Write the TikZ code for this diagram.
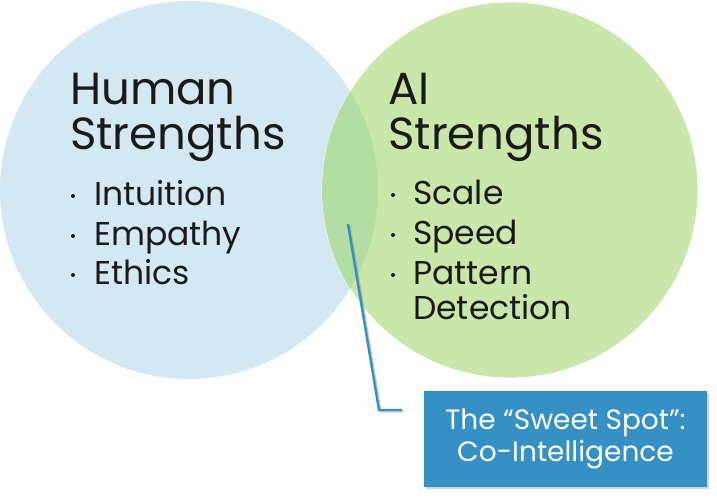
\documentclass[tikz,border=0pt]{standalone}
\usepackage{fontspec}
\setmainfont{Poppins}
\usetikzlibrary{shadows}

\definecolor{humanblue}{HTML}{D4E8F3}
\definecolor{aigreen}{HTML}{C9E7AA}
\definecolor{mixgreen}{HTML}{B3DEA3}
\definecolor{spotblue}{HTML}{3590C4}
\definecolor{inkdark}{HTML}{1A1A1A}

\tikzset{
  heading/.style={anchor=base west, inner sep=0, align=left, text=inkdark,
    font=\fontsize{45}{45}\selectfont},
  item/.style={anchor=base west, inner sep=0, text=inkdark,
    font=\fontsize{33}{35}\selectfont},
  dot/.style={circle, fill=inkdark, inner sep=0, minimum size=4pt},
}

\begin{document}
\begin{tikzpicture}[x=1pt, y=-1pt]
    \useasboundingbox (0,0) rectangle (717,498);

    % the two sets
    \node[circle, fill=humanblue, minimum size=378pt, inner sep=0] (H) at (189, 190) {};
    \node[circle, fill=aigreen, draw=white, line width=0.8pt, minimum size=376pt, inner sep=0] (A) at (510, 190) {};
    \begin{scope}
      \clip (189, 190) circle (189pt);
      \fill[mixgreen] (510, 190) circle (188pt);
    \end{scope}

    % base of a two-line node is its last line
    \node[heading] (Htitle) at (70, 149) {Human\\Strengths};
    \node[item] (h1) at (94, 205) {Intuition};
    \node[item] (h2) at (94, 245) {Empathy};
    \node[item] (h3) at (94, 284) {Ethics};
    \node[dot] (hb1) at (73, 196) {};
    \node[dot] (hb2) at (73, 236) {};
    \node[dot] (hb3) at (73, 275) {};

    \node[heading] (Atitle) at (388, 149) {AI\\Strengths};
    \node[item] (a1) at (413, 204) {Scale};
    \node[item] (a2) at (413, 244) {Speed};
    \node[item] (a3) at (413, 284) {Pattern};
    \node[item] (a4) at (413, 319) {Detection};
    \node[dot] (ab1) at (393, 195) {};
    \node[dot] (ab2) at (393, 235) {};
    \node[dot] (ab3) at (393, 275) {};

    % callout
    \node[rectangle, fill=spotblue, minimum width=283pt, minimum height=96pt, inner sep=0,
      align=center, text=white, font=\fontsize{28}{32}\selectfont,
      drop shadow={shadow xshift=2pt, shadow yshift=-2pt, opacity=0.35}] (S) at (565.5, 439)
      {The “Sweet Spot”:\\Co-Intelligence};

    \coordinate (spot) at (348, 224);
    \coordinate (bend) at (379, 410);
    \coordinate (tail) at (402, 410);
    \draw[black!40, opacity=0.5, line width=2.4pt, transform canvas={shift={(1.5pt,-1.5pt)}}] (spot) -- (bend) -- (tail);
    \draw[spotblue, line width=2.4pt] (spot) -- (bend) -- (tail);
  \end{tikzpicture}
\end{document}
